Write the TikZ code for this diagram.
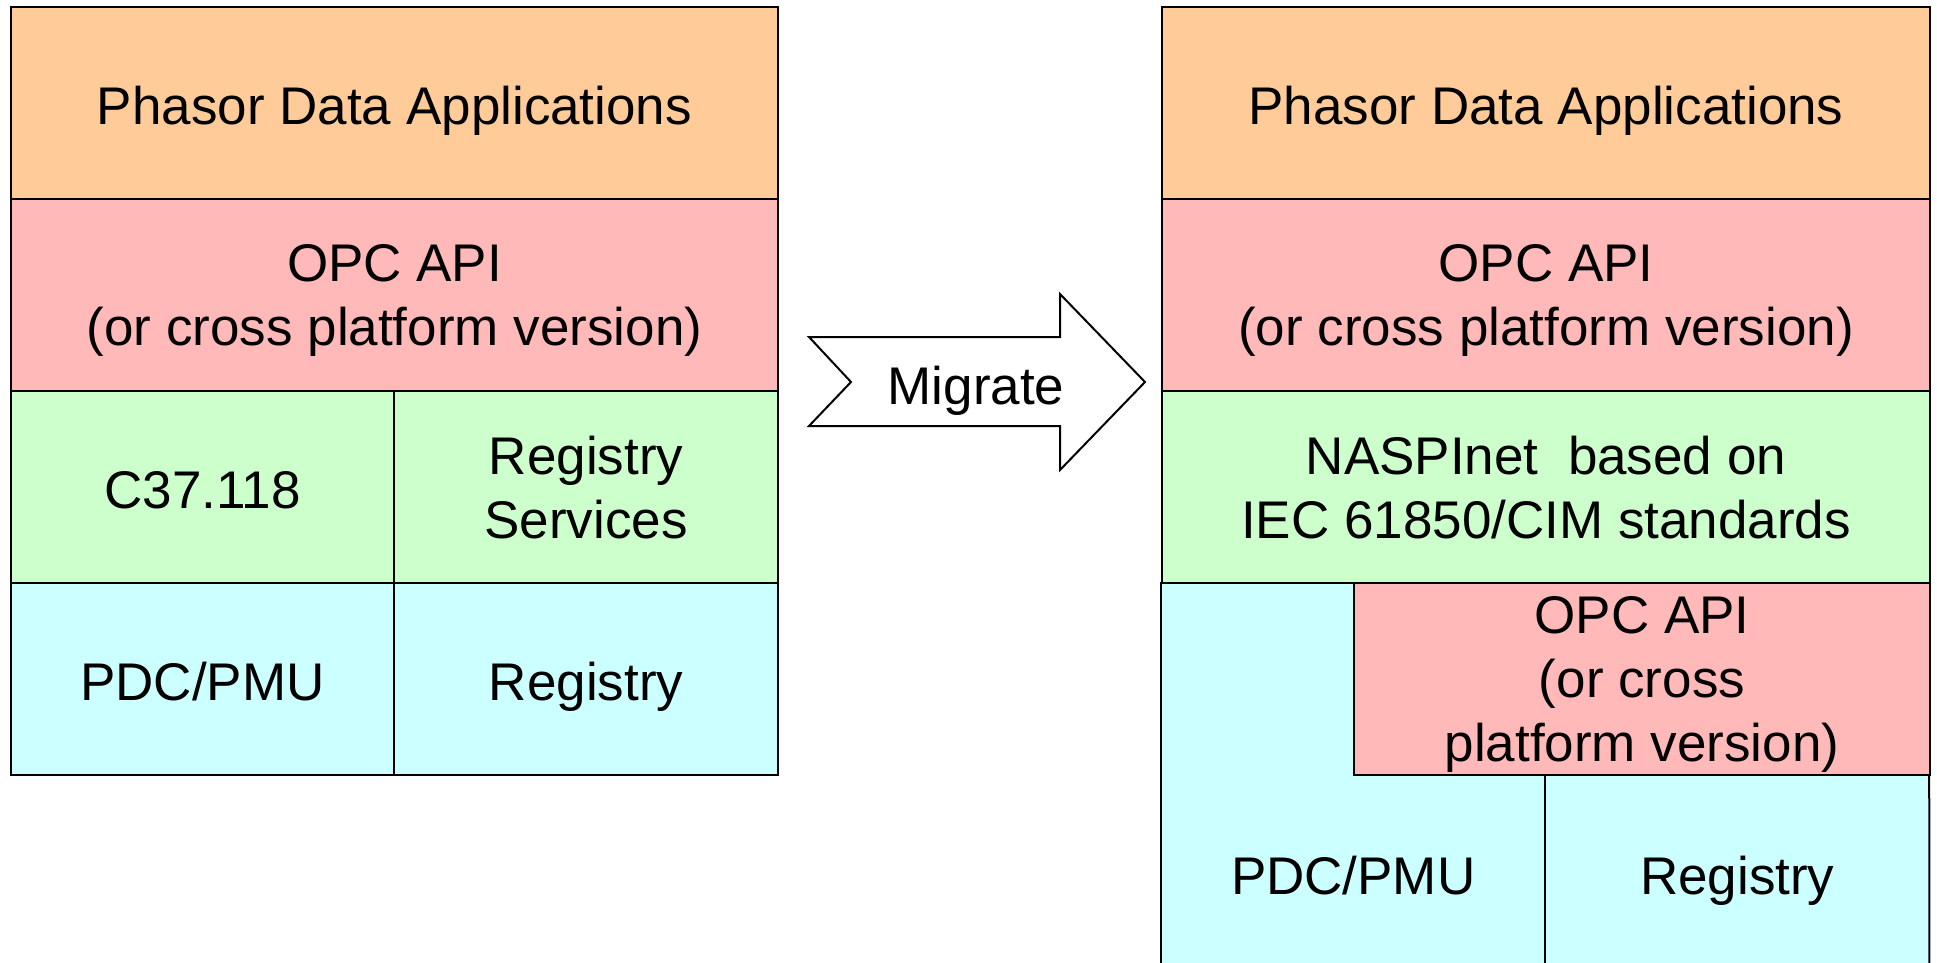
\documentclass[tikz,border=0pt]{standalone}
\usepackage{fontspec}
\setmainfont{Liberation Sans}
\definecolor{appfill}{HTML}{FFCC99}
\definecolor{apifill}{HTML}{FFB9B9}
\definecolor{netfill}{HTML}{CCFFCC}
\definecolor{devfill}{HTML}{CCFFFF}
\begin{document}
\begin{tikzpicture}[x=1pt,y=-1pt,
  layer/.style={draw=black, line width=2pt, anchor=north west, inner sep=0pt,
    align=center, text depth=0pt, font=\fontsize{53}{64}\selectfont},
  cell/.style={anchor=north west, inner sep=0pt, align=center,
    text depth=0pt, font=\fontsize{53}{64}\selectfont},
  oneline/.style={text height=43pt},
  stacktext/.style={inner sep=0pt, align=center, text height=43pt, text depth=0pt,
    font=\fontsize{53}{64}\selectfont},
  outline/.style={draw=black, line width=2pt},
]
\useasboundingbox (0,0) rectangle (1937,963);
\clip (0,0) rectangle (1937,963);
\fill[white] (0,0) rectangle (1937,963);

% ---------- left stack: current architecture ----------
\node[layer, oneline, fill=appfill, minimum width=767pt, minimum height=192pt] (lapp) at (10,6) {Phasor Data Applications};
\node[layer, fill=apifill, minimum width=767pt, minimum height=192pt] (lapi) at (10,198) {OPC API\\(or cross platform version)};
\node[layer, oneline, fill=netfill, minimum width=383pt, minimum height=192pt] (lc37) at (10,390) {C37.118};
\node[layer, fill=netfill, minimum width=384pt, minimum height=192pt] (lregs) at (393,390) {Registry\\Services};
\node[layer, oneline, fill=devfill, minimum width=383pt, minimum height=192pt] (lpdc) at (10,582) {PDC/PMU};
\node[layer, oneline, fill=devfill, minimum width=384pt, minimum height=192pt] (lreg) at (393,582) {Registry};

% ---------- migration arrow ----------
\coordinate (t1) at (809,337);
\coordinate (s1) at (1060,337);
\coordinate (h1) at (1060,294);
\coordinate (tip) at (1145,382);
\coordinate (h2) at (1060,470);
\coordinate (s2) at (1060,426);
\coordinate (t2) at (809,426);
\coordinate (notch) at (851,382);
\draw[outline, fill=white, line join=miter] (t1) -- (s1) -- (h1) -- (tip) -- (h2) -- (s2) -- (t2) -- (notch) -- cycle;
\node[stacktext] (mig) at (976,383) {Migrate};

% ---------- right stack: NASPInet architecture ----------
\node[layer, oneline, fill=appfill, minimum width=768pt, minimum height=192pt] (rapp) at (1161,6) {Phasor Data Applications};
\node[layer, fill=apifill, minimum width=768pt, minimum height=192pt] (rapi) at (1161,198) {OPC API\\(or cross platform version)};
% device layer: one cyan block under the network layer
\fill[devfill] (1161,582) rectangle (1929,980);
\node[cell, oneline, minimum width=384pt, minimum height=198pt] (rpdc) at (1161,774) {PDC/PMU};
\node[cell, oneline, minimum width=384pt, minimum height=198pt] (rreg) at (1545,774) {Registry};
\draw[outline] (1161,582) -- (rpdc.south west);
\draw[outline] (1929,582) -- (rreg.south east);
\draw[outline] (rpdc.north east) -- (rpdc.south east);
% API layer embedded in the device layer
\node[layer, fill=apifill, minimum width=576pt, minimum height=192pt] (ropc) at (1353,582) {OPC API\\(or cross\\platform version)};
\node[layer, fill=netfill, minimum width=768pt, minimum height=192pt] (rnet) at (1161,390) {NASPInet\ \ based on\\IEC 61850/CIM standards};
\end{tikzpicture}
\end{document}
